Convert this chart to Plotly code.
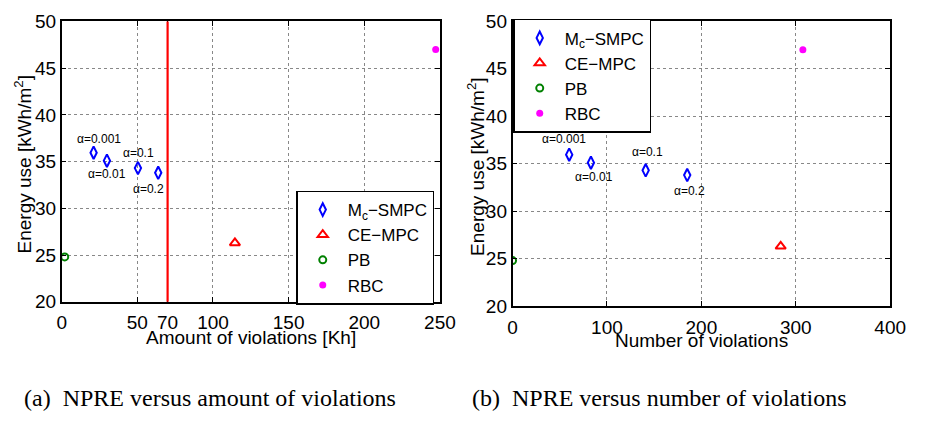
import plotly.graph_objects as go

W, H = 928, 423

# ---- data ----
alpha_labels = ["α=0.001", "α=0.01", "α=0.1", "α=0.2"]
smpc_amount = [21.1, 29.9, 50.4, 63.8]
smpc_number = [60, 83, 141, 185]
smpc_energy = [35.95, 35.1, 34.3, 33.8]

ce_amount = [114.5]
ce_number = [284]
ce_energy = [26.3]

pb_amount = [2]
pb_number = [0]
pb_energy = [24.8]

rbc_amount = [247.2]
rbc_number = [307.5]
rbc_energy = [47.0]

amount_threshold = 70

left_xticks = [0, 50, 70, 100, 150, 200, 250]
right_xticks = [0, 100, 200, 300, 400]
yticks = [20, 25, 30, 35, 40, 45, 50]

BLUE, RED, GREEN, MAG = "#0000FF", "#FF0000", "#008000", "#FF00FF"
FONT = "Liberation Sans, Arial, sans-serif"

fig = go.Figure()


def add_series(xs, legend, xa, ya):
    (sx, cx, px, rx) = xs
    fig.add_trace(go.Scatter(x=sx, y=smpc_energy, mode="markers", name="M<sub>c</sub>−SMPC",
                             marker=dict(symbol="diamond-tall-open", size=9, color=BLUE, line=dict(width=2, color=BLUE)),
                             legend=legend, xaxis=xa, yaxis=ya))
    fig.add_trace(go.Scatter(x=cx, y=ce_energy, mode="markers", name="CE−MPC",
                             marker=dict(symbol="triangle-up-open", size=9, color=RED, line=dict(width=2, color=RED)),
                             legend=legend, xaxis=xa, yaxis=ya))
    fig.add_trace(go.Scatter(x=px, y=pb_energy, mode="markers", name="PB",
                             marker=dict(symbol="circle-open", size=7, color=GREEN, line=dict(width=2, color=GREEN)),
                             legend=legend, xaxis=xa, yaxis=ya))
    fig.add_trace(go.Scatter(x=rx, y=rbc_energy, mode="markers", name="RBC",
                             marker=dict(symbol="circle", size=7, color=MAG),
                             legend=legend, xaxis=xa, yaxis=ya))


add_series((smpc_amount, ce_amount, pb_amount, rbc_amount), "legend", "x", "y")
add_series((smpc_number, ce_number, pb_number, rbc_number), "legend2", "x2", "y2")

# threshold line
fig.add_shape(type="line", xref="x", yref="y domain", x0=amount_threshold, x1=amount_threshold,
              y0=0, y1=1, line=dict(color=RED, width=2.2), layer="above")

axis_common = dict(showline=True, linecolor="black", linewidth=1.5, mirror="ticks", ticks="inside",
                   ticklen=5, tickcolor="black", showgrid=True, gridcolor="#888888", griddash="dot",
                   gridwidth=1, zeroline=False, tickfont=dict(family=FONT, size=19, color="black"))

leg_common = dict(xanchor="left", yanchor="top", bgcolor="white", bordercolor="black", borderwidth=1.5,
                  itemwidth=40, font=dict(family=FONT, size=17, color="black"))

fig.update_layout(
    width=W, height=H, margin=dict(l=0, r=0, t=0, b=0),
    paper_bgcolor="white", plot_bgcolor="white",
    xaxis=dict(domain=[58 / W, 445 / W], range=[0, 250], tickvals=left_xticks, anchor="y",
               ticklabelstandoff=3, **axis_common),
    yaxis=dict(domain=[1 - 307 / H, 1 - 12 / H], range=[20, 50], tickvals=yticks, anchor="x", **axis_common),
    xaxis2=dict(domain=[519.3 / W, 905.7 / W], range=[0, 400], tickvals=right_xticks, anchor="y2",
                ticklabelstandoff=3, **axis_common),
    yaxis2=dict(domain=[1 - 311.7 / H, 1 - 11.7 / H], range=[20, 50], tickvals=yticks, anchor="x2", **axis_common),
    legend=dict(x=298 / W, y=1 - 190 / H, **leg_common),
    legend2=dict(x=520 / W, y=1 - 9.3 / H, **leg_common),
    showlegend=True,
)

# alpha annotations
ann_font = dict(family=FONT, size=12, color="black")
left_shifts = [(5, 14), (0, -13), (1, 15), (-10, -16)]
right_shifts = [(-5, 16), (3, -14), (2, 18), (2, -16)]
for lab, xv, yv, (dx, dy) in zip(alpha_labels, smpc_amount, smpc_energy, left_shifts):
    fig.add_annotation(x=xv, y=yv, xref="x", yref="y", text=lab, showarrow=False, xshift=dx, yshift=dy,
                       xanchor="center", yanchor="middle", font=ann_font)
for lab, xv, yv, (dx, dy) in zip(alpha_labels, smpc_number, smpc_energy, right_shifts):
    fig.add_annotation(x=xv, y=yv, xref="x2", yref="y2", text=lab, showarrow=False, xshift=dx, yshift=dy,
                       xanchor="center", yanchor="middle", font=ann_font)

# axis titles
title_font = dict(family=FONT, size=19, color="black")
fig.add_annotation(x=251.5 / W, y=1 - 345 / H, xref="paper", yref="paper", text="Amount of violations [Kh]",
                   showarrow=False, xanchor="center", yanchor="middle", font=title_font)
fig.add_annotation(x=712.5 / W, y=1 - 348 / H, xref="paper", yref="paper", text="Number of violations",
                   showarrow=False, xanchor="center", yanchor="middle", font=title_font)
fig.add_annotation(x=18 / W, y=1 - 163 / H, xref="paper", yref="paper", text="Energy use [kWh/m<sup>2</sup>]",
                   showarrow=False, textangle=-90, xanchor="center", yanchor="middle", font=title_font)
fig.add_annotation(x=482 / W, y=1 - 165 / H, xref="paper", yref="paper", text="Energy use [kWh/m<sup>2</sup>]",
                   showarrow=False, textangle=-90, xanchor="center", yanchor="middle", font=title_font)

# captions
cap_font = dict(family="Liberation Serif, Times New Roman, serif", size=24, color="black")
fig.add_annotation(x=210 / W, y=1 - 408 / H, xref="paper", yref="paper",
                   text="(a)  NPRE versus amount of violations", showarrow=False,
                   xanchor="center", yanchor="middle", font=cap_font)
fig.add_annotation(x=670 / W, y=1 - 408 / H, xref="paper", yref="paper",
                   text="(b)  NPRE versus number of violations", showarrow=False,
                   xanchor="center", yanchor="middle", font=cap_font)

fig.write_html("out.html")
